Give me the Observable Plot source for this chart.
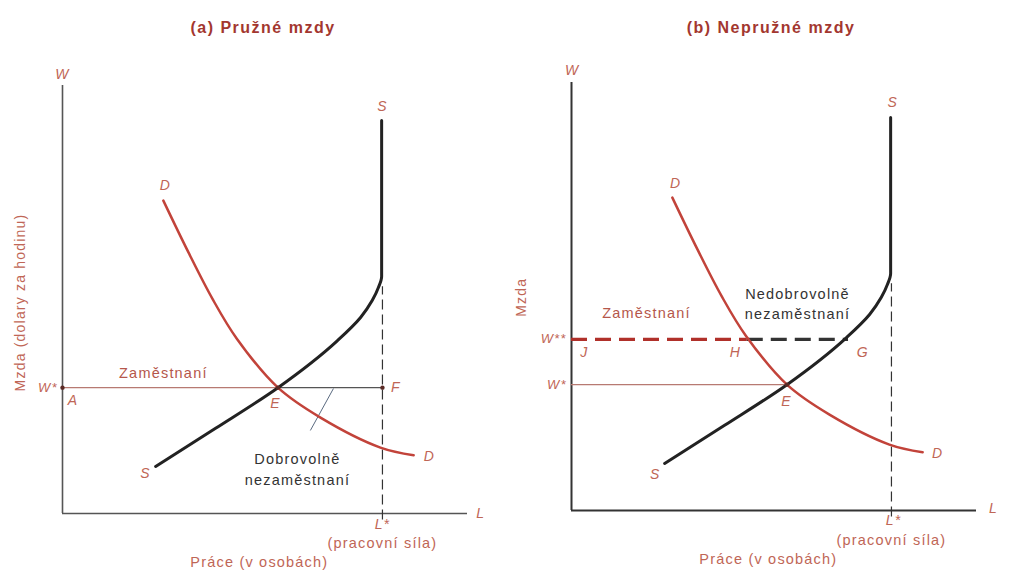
<!DOCTYPE html>
<html><head><meta charset="utf-8">
<script src="https://cdn.jsdelivr.net/npm/d3@7"></script>
<script src="https://cdn.jsdelivr.net/npm/@observablehq/plot@0.6"></script>
<style>
body{margin:0;background:#fff;font-family:"Liberation Sans",Arial,sans-serif;}
#wrap{position:relative;width:1012px;height:574px;overflow:hidden;background:#fff;}
.panel{position:absolute;top:0;width:506px;}
.title{height:45px;box-sizing:border-box;padding-top:18px;line-height:19px;font-weight:bold;font-size:16px;letter-spacing:1.5px;color:#a3372f;text-align:center;}
</style>
</head><body>
<div id="wrap">
  <div class="panel" id="pa" style="left:0"><div class="title" style="padding-left:20px">(a) Pružné mzdy</div></div>
  <div class="panel" id="pb" style="left:506px"><div class="title" style="padding-left:24px">(b) Nepružné mzdy</div></div>
</div>
<script>
// Labour supply curve S (L = labour, W = wage)
const supplyL = [23.0, 37.8, 53.2, 67.9, 73.6, 76.5, 78.0, 78.8, 78.8];
const supplyW = [11.0, 19.9, 29.4, 40.4, 45.8, 49.8, 52.8, 55.4, 91.8];
// Labour demand curve D
const demandL = [24.9, 31.1, 37.0, 43.0, 53.2, 63.7, 78.5, 86.7];
const demandW = [73.1, 61.0, 50.2, 40.9, 29.4, 22.4, 15.4, 13.6];
// Key levels
const wStar = 29.4;      // W*
const wStar2 = 40.0;     // W** (rigid wage)
const lStar = 79.0;      // L* (labour force)
const eL = 53.2;         // equilibrium employment E
const hL = 43.4;         // H
const gL = 68.4;         // G
const lStarTop = 53.0;   // top of L* dashed guide

// Text annotations: [text, L, W]
const labelsA = [
  ["W", 0, 102.5], ["L", 103.3, 0], ["S", 79, 95.2], ["S", 20.5, 9.3],
  ["D", 25.4, 76.7], ["D", 90.6, 13.2], ["E", 52.6, 25.7], ["A", 2.6, 26.3],
  ["F", 82.3, 29.4], ["L*", 79, -2.6]
];
const labelsB = [
  ["W", 0.2, 102.8], ["L", 104.2, 0.5], ["S", 79.3, 95.3], ["S", 20.7, 8.4],
  ["D", 25.7, 76.5], ["D", 90.4, 13.2], ["E", 53.1, 25.4], ["H", 40.5, 36.8],
  ["G", 71.9, 36.8], ["J", 3.2, 36.8], ["L*", 79.5, -2.3]
];

const RED = "#c2433a", LAB = "#bf6656", DARK = "#222";
const FS = 14.5;

const pts = (xs, ys) => xs.map((l, i) => ({L: l, W: ys[i]}));
const supply = pts(supplyL, supplyW);
const demand = pts(demandL, demandW);
const toObj = arr => arr.map(([t, L, W]) => ({t, L, W}));

function basePlot(o, marks) {
  return Plot.plot({
    width: 506, height: 529,
    marginLeft: o.ml, marginRight: o.mr, marginTop: o.mt, marginBottom: o.mb,
    x: {domain: [0, 100], axis: null},
    y: {domain: [0, 100], axis: null},
    style: {fontFamily: '"Liberation Sans", Arial, sans-serif', background: "transparent", overflow: "visible", letterSpacing: "1.2px"},
    marks
  });
}

function common(labels, axisColor, axisWidth) {
  return [
    Plot.ruleX([0], {y1: 0, y2: 100, stroke: axisColor, strokeWidth: axisWidth}),
    Plot.ruleY([0], {x1: 0, x2: 100, stroke: axisColor, strokeWidth: axisWidth}),
    Plot.ruleX([lStar], {y1: -1.5, y2: lStarTop, stroke: "#333", strokeWidth: 1.2, strokeDasharray: "10,5"}),
    Plot.text(toObj(labels), {x: "L", y: "W", text: "t", fill: LAB, fontSize: 14, fontStyle: "italic"}),
    Plot.text(["(pracovní síla)"], {x: lStar, y: -7, text: d => d, fill: LAB, fontSize: FS}),
    Plot.text(["Práce (v osobách)"], {x: 48.6, y: -11.5, text: d => d, fill: LAB, fontSize: FS})
  ];
}

// Panel (a)
const plotA = basePlot({ml: 62, mr: 39, mt: 40, mb: 61}, [
  ...common(labelsA, "#555", 1.6),
  Plot.ruleY([wStar], {x1: 0, x2: eL, stroke: "#b77a72", strokeWidth: 1.3}),
  Plot.ruleY([wStar], {x1: eL, x2: lStar, stroke: "#555", strokeWidth: 1.3}),
  Plot.link([{x1: 61.2, y1: 19.4, x2: 66.9, y2: 29.2}], {x1: "x1", y1: "y1", x2: "x2", y2: "y2", stroke: "#5a6a80", strokeWidth: 1}),
  Plot.line(supply, {x: "L", y: "W", curve: "monotone-y", stroke: DARK, strokeWidth: 3}),
  Plot.line(demand, {x: "L", y: "W", curve: "catmull-rom", stroke: RED, strokeWidth: 2.5}),
  Plot.dot([[0, wStar], [lStar, wStar], [eL, wStar]], {x: d => d[0], y: d => d[1], r: 2.2, fill: "#5a2a25"}),
  Plot.text(["W*"], {x: -1.2, y: wStar, text: d => d, textAnchor: "end", fill: LAB, fontSize: 13, fontStyle: "italic"}),
  Plot.text(["Zaměstnaní"], {x: 24.9, y: 32.7, text: d => d, fill: "#b5574b", fontSize: FS}),
  Plot.text(["Dobrovolně\nnezaměstnaní"], {x: 58, y: 10.6, text: d => d, fill: "#333", fontSize: FS, lineHeight: 1.4}),
  Plot.text(["Mzda (dolary za hodinu)"], {x: -10.4, y: 49.3, text: d => d, rotate: -90, fill: LAB, fontSize: 14, letterSpacing: "0.8px"})
]);

// Panel (b)
const plotB = basePlot({ml: 65, mr: 36, mt: 37, mb: 64}, [
  ...common(labelsB, "#333", 2),
  Plot.ruleY([wStar], {x1: 0, x2: eL, stroke: "#b77a72", strokeWidth: 1.1}),
  Plot.ruleY([wStar2], {x1: 0, x2: hL, stroke: "#b0302a", strokeWidth: 3.2, strokeDasharray: "16,8"}),
  Plot.ruleY([wStar2], {x1: hL, x2: gL, stroke: "#333", strokeWidth: 3.2, strokeDasharray: "16,8"}),
  Plot.line(supply, {x: "L", y: "W", curve: "monotone-y", stroke: DARK, strokeWidth: 3}),
  Plot.line(demand, {x: "L", y: "W", curve: "catmull-rom", stroke: RED, strokeWidth: 2.5}),
  Plot.dot([[eL, wStar]], {x: d => d[0], y: d => d[1], r: 2.2, fill: "#5a2a25"}),
  Plot.text(["W**"], {x: -1.2, y: wStar2, text: d => d, textAnchor: "end", fill: LAB, fontSize: 13, fontStyle: "italic"}),
  Plot.text(["W*"], {x: -1.2, y: wStar, text: d => d, textAnchor: "end", fill: LAB, fontSize: 13, fontStyle: "italic"}),
  Plot.text(["Zaměstnaní"], {x: 18.5, y: 46, text: d => d, fill: "#b5574b", fontSize: FS}),
  Plot.text(["Nedobrovolně\nnezaměstnaní"], {x: 55.8, y: 48.6, text: d => d, fill: "#333", fontSize: FS, lineHeight: 1.4}),
  Plot.text(["Mzda"], {x: -12.3, y: 49.8, text: d => d, rotate: -90, fill: LAB, fontSize: 14})
]);

document.getElementById("pa").appendChild(plotA);
document.getElementById("pb").appendChild(plotB);
</script>
</body></html>
